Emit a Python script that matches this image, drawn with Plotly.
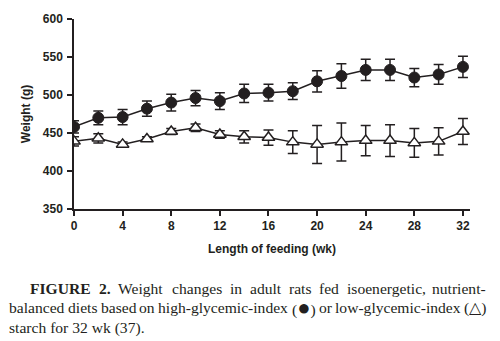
import plotly.graph_objects as go

# Weeks of feeding
weeks = [0, 2, 4, 6, 8, 10, 12, 14, 16, 18, 20, 22, 24, 26, 28, 30, 32]

# High-glycemic-index starch (filled circles): mean weight and SE (g)
hgi_mean = [458, 470, 471, 482, 490, 496, 492, 502, 503, 505, 518, 525, 533, 533, 523, 527, 537]
hgi_err = [8, 9, 10, 10, 11, 10, 11, 12, 11, 11, 14, 16, 14, 14, 12, 13, 14]

# Low-glycemic-index starch (open triangles): mean weight and SE (g)
lgi_mean = [439, 443, 435, 442, 452, 457, 448, 445, 444, 438, 435, 438, 440, 440, 437, 439, 452]
lgi_err = [6, 6, 3, 3, 4, 5, 5, 8, 10, 15, 25, 25, 20, 21, 19, 18, 17]

x_ticks = [0, 4, 8, 12, 16, 20, 24, 28, 32]
y_ticks = [350, 400, 450, 500, 550, 600]

ink = "#231f20"

fig = go.Figure()

fig.add_trace(go.Scatter(
    x=weeks, y=lgi_mean, mode="lines+markers",
    line=dict(color=ink, width=1.5),
    marker=dict(symbol="triangle-up", size=11, color="white",
                line=dict(color=ink, width=1.5)),
    error_y=dict(type="data", array=lgi_err, visible=True,
                 color=ink, thickness=1.5, width=5),
    showlegend=False,
))

fig.add_trace(go.Scatter(
    x=weeks, y=hgi_mean, mode="lines+markers",
    line=dict(color=ink, width=1.5),
    marker=dict(symbol="circle", size=11, color=ink,
                line=dict(color=ink, width=1)),
    error_y=dict(type="data", array=hgi_err, visible=True,
                 color=ink, thickness=1.5, width=5),
    showlegend=False,
))

sans = "Liberation Sans, Arial, sans-serif"
tick_font = dict(family=sans, size=12, color=ink, weight="bold")
title_font = dict(family=sans, size=12, color=ink)

fig.update_xaxes(
    range=[0, 32.58], tickvals=x_ticks, ticktext=[str(t) for t in x_ticks],
    showgrid=False, zeroline=False, showline=True, linecolor=ink, linewidth=1.5,
    ticks="outside", ticklen=5, tickwidth=1.5, tickcolor=ink,
    tickfont=tick_font,
    title=dict(text="<b>Length of feeding (wk)</b>", font=title_font, standoff=12),
)
fig.update_yaxes(
    range=[350, 600], tickvals=y_ticks, ticktext=[str(t) for t in y_ticks],
    showgrid=False, zeroline=False, showline=True, linecolor=ink, linewidth=1.5,
    ticks="outside", ticklen=5, tickwidth=1.5, tickcolor=ink,
    tickfont=tick_font, ticklabelstandoff=2,
    title=dict(text="<b>Weight (g)</b>", font=title_font, standoff=10),
)

# ---- Caption beneath the chart, set as justified serif text ----
L, R, T, B = 74, 30, 15, 132
pw, ph = 500 - L - R, 341 - T - B


def px(x):
    return (x - L) / pw


def py(y):
    return (341 - B - y) / ph


cap_size = 15.6
dot_size = 22  # the filled-circle symbol is set larger than the running text

# Advance widths (1/1000 em) of Times-compatible serif glyphs
REGULAR = {
    " ": 250, "(": 333, ")": 333, ",": 250, "-": 333, ".": 250,
    "0": 500, "1": 500, "2": 500, "3": 500, "4": 500, "5": 500,
    "6": 500, "7": 500, "8": 500, "9": 500,
    "a": 444, "b": 500, "c": 444, "d": 500, "e": 444, "f": 333, "g": 500,
    "h": 500, "i": 278, "k": 500, "l": 278, "m": 778, "n": 500, "o": 500,
    "r": 333, "s": 389, "t": 278, "u": 500, "w": 722, "x": 500, "y": 500,
    "W": 944, "●": round(604 * dot_size / cap_size), "△": 880,
}
BOLD = {"F": 611, "I": 389, "G": 778, "U": 722, "R": 722, "E": 667,
        "2": 500, ".": 250, " ": 250}


def text_width(word, size, bold=False):
    table = BOLD if bold else REGULAR
    return sum(table.get(ch, 500) for ch in word) * size / 1000.0


def markup(word, bold):
    if bold:
        return f"<b>{word}</b>"
    return word.replace("●", f"<span style='font-size:{dot_size}px'>●</span>")


serif = dict(family="Liberation Serif, Times New Roman, serif", size=cap_size, color=ink)

# (left edge, right edge or None for ragged, centre y, words as (text, bold))
caption_lines = [
    (29, 487, 290, [("FIGURE", True), ("2.", True), ("Weight", False), ("changes", False),
                    ("in", False), ("adult", False), ("rats", False), ("fed", False),
                    ("isoenergetic,", False), ("nutrient-", False)]),
    (8, 487, 310, [("balanced", False), ("diets", False), ("based", False), ("on", False),
                   ("high-glycemic-index", False), ("(●)", False), ("or", False),
                   ("low-glycemic-index", False), ("(△)", False)]),
    (8, None, 330, [("starch for 32 wk (37).", False)]),
]

annotations = []
for left, right, y0, words in caption_lines:
    widths = [text_width(w, cap_size, b) for w, b in words]
    if right is None or len(words) == 1:
        gap = 0.0
    else:
        gap = (right - left - sum(widths)) / (len(words) - 1)
    x = left
    for i, ((word, bold), w) in enumerate(zip(words, widths)):
        last = right is not None and i == len(words) - 1 and len(words) > 1
        annotations.append(dict(
            text=markup(word, bold),
            x=px(right if last else x), y=py(y0), xref="paper", yref="paper",
            xanchor="right" if last else "left", yanchor="middle",
            showarrow=False, font=serif, borderpad=0,
        ))
        x += w + gap

fig.update_layout(
    width=500, height=341,
    margin=dict(l=L, r=R, t=T, b=B),
    paper_bgcolor="white", plot_bgcolor="white",
    annotations=annotations,
)

fig.write_html("out.html")
